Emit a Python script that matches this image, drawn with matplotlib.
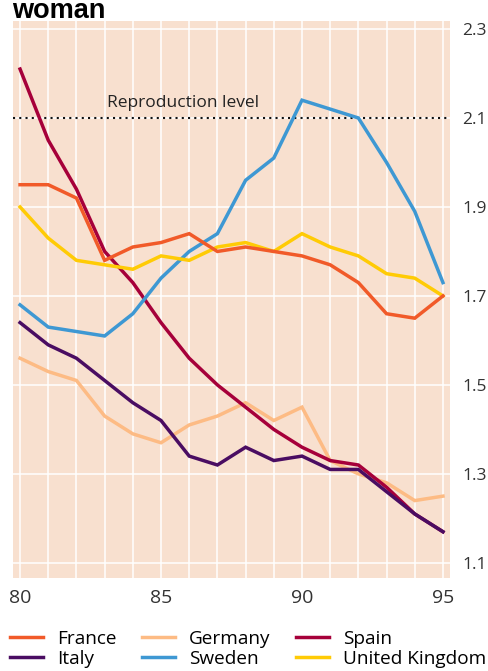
import matplotlib
matplotlib.use("Agg")
import matplotlib.pyplot as plt

plt.rcParams['font.family'] = ['Open Sans', 'DejaVu Sans']

years = list(range(80, 96))
france = [1.95, 1.95, 1.92, 1.78, 1.81, 1.82, 1.84, 1.80, 1.81, 1.80, 1.79, 1.77, 1.73, 1.66, 1.65, 1.70]
germany = [1.56, 1.53, 1.51, 1.43, 1.39, 1.37, 1.41, 1.43, 1.46, 1.42, 1.45, 1.33, 1.30, 1.28, 1.24, 1.25]
spain = [2.21, 2.05, 1.94, 1.80, 1.73, 1.64, 1.56, 1.50, 1.45, 1.40, 1.36, 1.33, 1.32, 1.27, 1.21, 1.17]
italy = [1.64, 1.59, 1.56, 1.51, 1.46, 1.42, 1.34, 1.32, 1.36, 1.33, 1.34, 1.31, 1.31, 1.26, 1.21, 1.17]
sweden = [1.68, 1.63, 1.62, 1.61, 1.66, 1.74, 1.80, 1.84, 1.96, 2.01, 2.14, 2.12, 2.10, 2.00, 1.89, 1.73]
uk = [1.90, 1.83, 1.78, 1.77, 1.76, 1.79, 1.78, 1.81, 1.82, 1.80, 1.84, 1.81, 1.79, 1.75, 1.74, 1.70]
reproduction = 2.1
yticks = [1.1, 1.3, 1.5, 1.7, 1.9, 2.1, 2.3]
xlabels = {80: '80', 85: '85', 90: '90', 95: '95'}

fig = plt.figure(figsize=(4.88, 6.71), dpi=100)
ax = fig.add_axes([13 / 488, 1 - 578 / 671, 437 / 488, 557 / 671])
ax.set_facecolor('#F8E0CF')

lw = 2.5
ax.plot(years, germany, color='#FDBB84', lw=lw, label='Germany', solid_joinstyle='miter')
ax.plot(years, spain, color='#A6003A', lw=lw, label='Spain', solid_joinstyle='miter')
ax.plot(years, italy, color='#4A0D62', lw=lw, label='Italy', solid_joinstyle='miter')
ax.plot(years, sweden, color='#3E98D3', lw=lw, label='Sweden', solid_joinstyle='miter')
ax.plot(years, uk, color='#FFCB05', lw=lw, label='United Kingdom', solid_joinstyle='miter')
ax.plot(years, france, color='#F15A29', lw=lw, label='France', solid_joinstyle='miter')

ax.axhline(reproduction, color='#111111', lw=1.5, ls=(0, (1, 2)), zorder=1.5)
ax.text(83.1, 2.115, 'Reproduction level', fontsize=12.5, color='#222222', va='bottom')

ax.set_xlim(79.75, 95.25)
ax.set_ylim(1.066, 2.318)
ax.set_xticks(years)
ax.set_xticklabels([xlabels.get(y, '') for y in years])
ax.set_yticks(yticks)
ax.set_yticklabels([f'{v:.1f}' for v in yticks])
ax.yaxis.tick_right()
ax.tick_params(axis='x', length=0, labelsize=14, colors='#333333', pad=8)
ax.tick_params(axis='y', length=0, labelsize=12.5, colors='#333333', pad=9)
ax.grid(True, color='white', lw=1.1)
ax.set_axisbelow(True)
for s in ax.spines.values():
    s.set_visible(False)

fig.text(12 / 488, 1 - 17.5 / 671, 'woman', fontsize=19.5, fontweight='bold',
         family='Liberation Sans', color='black', va='baseline')

h, l = ax.get_legend_handles_labels()
order = ['France', 'Italy', 'Germany', 'Sweden', 'Spain', 'United Kingdom']
hs = [h[l.index(n)] for n in order]
fig.legend(hs, order, loc='upper left', bbox_to_anchor=(10 / 488, 1 - 630 / 671),
           ncol=3, frameon=False, fontsize=13.7, handlelength=1.75, handletextpad=0.75,
           columnspacing=1.3, labelspacing=0.1, borderpad=0, borderaxespad=0)

fig.savefig('out.png', dpi=100)
